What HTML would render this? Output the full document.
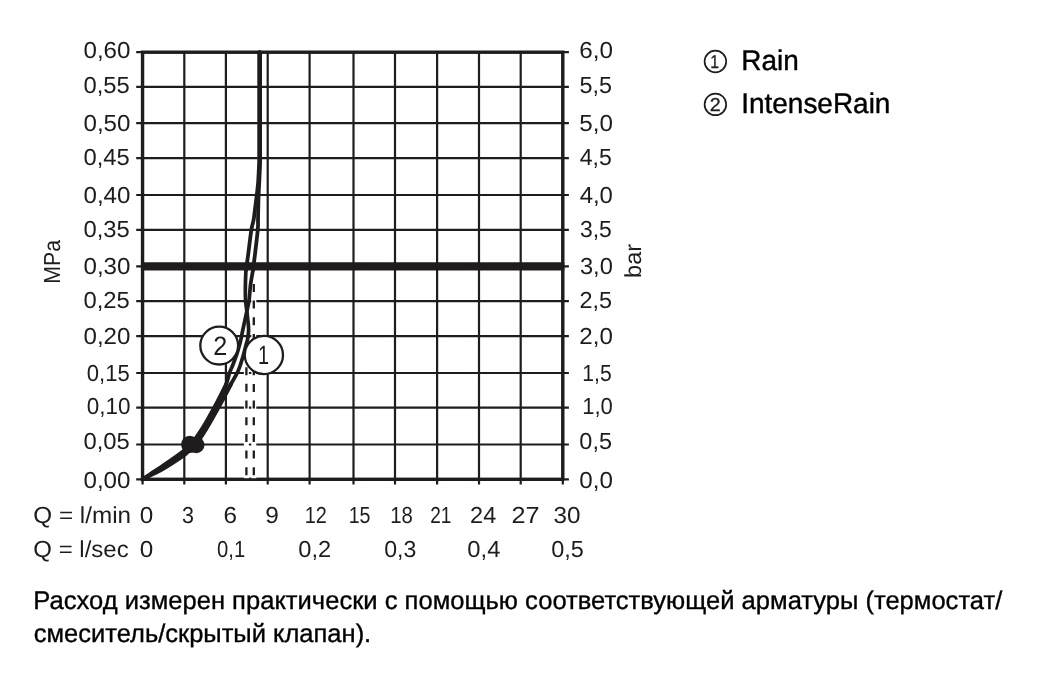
<!DOCTYPE html>
<html lang="ru"><head><meta charset="utf-8"><title>Rain / IntenseRain</title>
<style>
html,body{margin:0;padding:0;background:#fff;}
body{width:1059px;height:675px;overflow:hidden;position:relative;font-family:"Liberation Sans",sans-serif;color:#1f1c1d;}
svg{position:absolute;left:0;top:0;display:block;}
svg text{font-family:"Liberation Sans",sans-serif;fill:#1f1c1d;text-rendering:geometricPrecision;}
.ax{font-size:23.2px;}
.cn{font-size:26.6px;}
.ln{font-size:18.6px;stroke:#1f1c1d;stroke-width:0.3px;}
.lg{font-size:28.3px;fill:#000;stroke:#000;stroke-width:0.4px;}
.nt{font-size:25.7px;fill:#000;stroke:#000;stroke-width:0.35px;}
</style></head><body>
<svg width="1059" height="675" viewBox="0 0 1059 675">
<rect width="1059" height="675" fill="#fff"/>
<g stroke="#1f1c1d" fill="none" stroke-linecap="butt">
<line x1="142.55" y1="52.2" x2="142.55" y2="484.5" stroke-width="2.2"/>
<line x1="184.3" y1="52.2" x2="184.3" y2="484.5" stroke-width="2.2"/>
<line x1="225.9" y1="52.2" x2="225.9" y2="484.5" stroke-width="2.2"/>
<line x1="267.7" y1="52.2" x2="267.7" y2="484.5" stroke-width="2.2"/>
<line x1="309.6" y1="52.2" x2="309.6" y2="484.5" stroke-width="2.2"/>
<line x1="353.5" y1="52.2" x2="353.5" y2="484.5" stroke-width="2.2"/>
<line x1="395.0" y1="52.2" x2="395.0" y2="484.5" stroke-width="2.2"/>
<line x1="437.1" y1="52.2" x2="437.1" y2="484.5" stroke-width="2.2"/>
<line x1="479.0" y1="52.2" x2="479.0" y2="484.5" stroke-width="2.2"/>
<line x1="520.7" y1="52.2" x2="520.7" y2="484.5" stroke-width="2.2"/>
<line x1="562.8" y1="52.2" x2="562.8" y2="484.5" stroke-width="2.2"/>
<line x1="136.2" y1="52.2" x2="568.9" y2="52.2" stroke-width="2.2"/>
<line x1="136.2" y1="86.8" x2="568.9" y2="86.8" stroke-width="2.2"/>
<line x1="136.2" y1="123.2" x2="568.9" y2="123.2" stroke-width="2.2"/>
<line x1="136.2" y1="158.2" x2="568.9" y2="158.2" stroke-width="2.2"/>
<line x1="136.2" y1="195.0" x2="568.9" y2="195.0" stroke-width="2.2"/>
<line x1="136.2" y1="229.9" x2="568.9" y2="229.9" stroke-width="2.2"/>
<line x1="136.2" y1="266.4" x2="568.9" y2="266.4" stroke-width="2.2"/>
<line x1="136.2" y1="301.1" x2="568.9" y2="301.1" stroke-width="2.2"/>
<line x1="136.2" y1="336.2" x2="568.9" y2="336.2" stroke-width="2.2"/>
<line x1="136.2" y1="373.0" x2="568.9" y2="373.0" stroke-width="2.2"/>
<line x1="136.2" y1="407.7" x2="568.9" y2="407.7" stroke-width="2.2"/>
<line x1="136.2" y1="444.5" x2="568.9" y2="444.5" stroke-width="2.2"/>
<line x1="136.2" y1="479.3" x2="568.9" y2="479.3" stroke-width="2.2"/>
<rect x="142.55" y="52.2" width="420.25" height="427.10" stroke-width="3.4"/>
<line x1="140.95" y1="266.4" x2="564.4" y2="266.4" stroke-width="8.4"/>
</g>
<g fill="none">
<line x1="246.4" y1="364" x2="246.4" y2="478.2" stroke="#fff" stroke-width="5"/>
<line x1="253.8" y1="283" x2="253.8" y2="478.2" stroke="#fff" stroke-width="5"/>
<line x1="246.4" y1="367.2" x2="246.4" y2="476" stroke="#1f1c1d" stroke-width="2.3" stroke-dasharray="8 8.67"/>
<line x1="253.8" y1="283.9" x2="253.8" y2="476" stroke="#1f1c1d" stroke-width="2.3" stroke-dasharray="8 8.67"/>
</g>
<g stroke="#1f1c1d" fill="none" stroke-linecap="round" stroke-linejoin="round">
<path d="M142.6 479.3 C144.1 478.3 148.4 475.5 151.7 473.3 C155.0 471.1 157.3 469.8 162.5 466.2 C167.8 462.6 178.0 455.7 183.3 451.4 C188.6 447.2 190.8 444.6 194.2 440.4 C197.6 436.2 200.4 431.7 203.9 426.1 C207.3 420.5 212.1 411.8 214.8 406.8 C217.6 401.8 218.5 399.9 220.4 396.1 C222.3 392.4 224.8 387.9 226.3 384.0" stroke-width="4.1"/>
<path d="M142.6 479.3 C144.2 478.5 148.8 476.2 152.3 474.3 C155.8 472.5 158.4 471.6 163.9 468.2 C169.4 464.8 179.8 458.2 185.3 454.0 C190.8 449.7 193.2 446.9 196.8 442.6 C200.4 438.2 203.3 433.6 206.7 427.9 C210.2 422.2 215.0 413.4 217.8 408.4 C220.6 403.4 221.4 401.9 223.6 397.9 C225.8 393.8 228.7 388.2 231.0 384.0" stroke-width="4.1"/>
<path d="M220.4 396.1 C222.3 392.4 224.8 387.9 226.3 384.0 C227.8 380.1 228.6 375.8 229.6 372.8 C230.6 369.8 231.2 369.0 232.4 366.0 C233.6 363.0 235.4 358.3 236.6 354.9 C237.8 351.5 238.6 348.3 239.4 345.5 C240.2 342.7 240.6 340.8 241.2 338.0 C241.8 335.2 242.1 333.2 243.0 329.0 C243.9 324.8 245.6 317.2 246.6 312.5 C247.6 307.8 248.3 305.6 249.0 301.0 C249.7 296.4 249.8 290.1 250.5 285.0 C251.2 279.9 252.5 272.9 252.9 270.5" stroke-width="3.7"/>
<path d="M223.6 397.9 C225.8 393.8 228.7 388.2 231.0 384.0 C233.3 379.8 235.7 375.8 237.2 372.8 C238.7 369.8 239.0 369.0 240.0 366.0 C241.0 363.0 242.4 358.3 243.4 354.9 C244.4 351.5 245.2 348.3 245.9 345.5 C246.6 342.7 247.4 340.8 247.8 338.0 C248.2 335.2 248.7 333.2 248.6 329.0 C248.5 324.8 247.5 317.2 247.0 312.5 C246.5 307.8 245.9 305.6 245.6 301.0 C245.3 296.4 245.3 290.1 245.4 285.0 C245.5 279.9 245.8 272.9 245.9 270.5" stroke-width="3.7"/>
<path d="M252.9 270.5 C253.2 267.9 254.1 261.8 254.9 255.0 C255.7 248.2 257.3 235.4 257.8 229.6 C258.3 223.8 257.9 223.3 258.0 220.0 C258.1 216.7 258.1 214.2 258.2 210.0 C258.3 205.8 258.4 199.2 258.6 194.7 C258.8 190.2 259.0 187.1 259.2 183.0 C259.4 178.9 259.6 174.2 259.8 170.0 C260.0 165.8 260.1 166.3 260.1 158.0 C260.2 149.7 260.1 137.6 260.1 120.0 C260.1 102.4 260.1 63.5 260.1 52.2" stroke-width="3.8"/>
<path d="M245.9 270.5 C246.3 267.9 247.2 261.8 248.1 255.0 C249.0 248.2 250.5 235.4 251.4 229.6 C252.3 223.8 253.0 223.3 253.6 220.0 C254.2 216.7 254.4 214.2 254.9 210.0 C255.4 205.8 256.3 199.2 256.8 194.7 C257.3 190.2 257.8 187.1 258.1 183.0 C258.4 178.9 258.6 174.2 258.8 170.0 C259.0 165.8 259.1 166.3 259.2 158.0 C259.3 149.7 259.2 137.6 259.2 120.0 C259.2 102.4 259.2 63.5 259.2 52.2" stroke-width="3.8"/>
</g>
<circle cx="189.8" cy="444.4" r="8.7" fill="#1f1c1d"/>
<circle cx="196.2" cy="445" r="8.3" fill="#1f1c1d"/>
<circle cx="219.2" cy="345.6" r="18.9" fill="#fff" stroke="#1f1c1d" stroke-width="2.3"/>
<circle cx="263.9" cy="355.0" r="19.1" fill="#fff" stroke="#1f1c1d" stroke-width="2.3"/>
<text class="cn" x="213.23" y="355.00" textLength="14.04" lengthAdjust="spacingAndGlyphs">2</text>
<text class="cn" x="258.08" y="364.40" textLength="11.09" lengthAdjust="spacingAndGlyphs">1</text>
<text class="ax" x="83.46" y="57.70" textLength="46.99" lengthAdjust="spacingAndGlyphs">0,60</text>
<text class="ax" x="83.47" y="93.40" textLength="46.33" lengthAdjust="spacingAndGlyphs">0,55</text>
<text class="ax" x="83.46" y="131.30" textLength="46.99" lengthAdjust="spacingAndGlyphs">0,50</text>
<text class="ax" x="83.47" y="165.00" textLength="46.33" lengthAdjust="spacingAndGlyphs">0,45</text>
<text class="ax" x="83.46" y="203.40" textLength="46.99" lengthAdjust="spacingAndGlyphs">0,40</text>
<text class="ax" x="83.47" y="236.60" textLength="46.33" lengthAdjust="spacingAndGlyphs">0,35</text>
<text class="ax" x="83.46" y="274.40" textLength="46.99" lengthAdjust="spacingAndGlyphs">0,30</text>
<text class="ax" x="83.47" y="307.80" textLength="46.33" lengthAdjust="spacingAndGlyphs">0,25</text>
<text class="ax" x="83.46" y="343.80" textLength="46.99" lengthAdjust="spacingAndGlyphs">0,20</text>
<text class="ax" x="86.84" y="380.60" textLength="42.89" lengthAdjust="spacingAndGlyphs">0,15</text>
<text class="ax" x="86.72" y="414.40" textLength="43.65" lengthAdjust="spacingAndGlyphs">0,10</text>
<text class="ax" x="83.47" y="449.30" textLength="46.33" lengthAdjust="spacingAndGlyphs">0,05</text>
<text class="ax" x="83.46" y="487.50" textLength="46.99" lengthAdjust="spacingAndGlyphs">0,00</text>
<text class="ax" x="579.37" y="57.70" textLength="33.68" lengthAdjust="spacingAndGlyphs">6,0</text>
<text class="ax" x="579.56" y="93.40" textLength="32.52" lengthAdjust="spacingAndGlyphs">5,5</text>
<text class="ax" x="579.33" y="131.30" textLength="33.61" lengthAdjust="spacingAndGlyphs">5,0</text>
<text class="ax" x="579.67" y="165.00" textLength="32.10" lengthAdjust="spacingAndGlyphs">4,5</text>
<text class="ax" x="579.65" y="203.40" textLength="33.28" lengthAdjust="spacingAndGlyphs">4,0</text>
<text class="ax" x="579.92" y="236.60" textLength="31.94" lengthAdjust="spacingAndGlyphs">3,5</text>
<text class="ax" x="579.90" y="274.40" textLength="32.93" lengthAdjust="spacingAndGlyphs">3,0</text>
<text class="ax" x="579.42" y="307.80" textLength="32.56" lengthAdjust="spacingAndGlyphs">2,5</text>
<text class="ax" x="579.39" y="343.80" textLength="33.56" lengthAdjust="spacingAndGlyphs">2,0</text>
<text class="ax" x="582.29" y="380.60" textLength="29.40" lengthAdjust="spacingAndGlyphs">1,5</text>
<text class="ax" x="582.22" y="414.40" textLength="30.64" lengthAdjust="spacingAndGlyphs">1,0</text>
<text class="ax" x="579.38" y="449.30" textLength="32.60" lengthAdjust="spacingAndGlyphs">0,5</text>
<text class="ax" x="579.36" y="487.50" textLength="33.59" lengthAdjust="spacingAndGlyphs">0,0</text>
<text class="ax" x="139.65" y="523.10" textLength="13.50" lengthAdjust="spacingAndGlyphs">0</text>
<text class="ax" x="181.98" y="523.10" textLength="11.96" lengthAdjust="spacingAndGlyphs">3</text>
<text class="ax" x="223.47" y="523.10" textLength="13.50" lengthAdjust="spacingAndGlyphs">6</text>
<text class="ax" x="265.15" y="523.10" textLength="13.61" lengthAdjust="spacingAndGlyphs">9</text>
<text class="ax" x="304.79" y="523.10" textLength="22.11" lengthAdjust="spacingAndGlyphs">12</text>
<text class="ax" x="348.71" y="523.10" textLength="21.82" lengthAdjust="spacingAndGlyphs">15</text>
<text class="ax" x="390.25" y="523.10" textLength="22.63" lengthAdjust="spacingAndGlyphs">18</text>
<text class="ax" x="430.24" y="523.10" textLength="21.19" lengthAdjust="spacingAndGlyphs">21</text>
<text class="ax" x="470.12" y="523.10" textLength="26.07" lengthAdjust="spacingAndGlyphs">24</text>
<text class="ax" x="511.43" y="523.10" textLength="28.04" lengthAdjust="spacingAndGlyphs">27</text>
<text class="ax" x="553.48" y="523.10" textLength="26.97" lengthAdjust="spacingAndGlyphs">30</text>
<text class="ax" x="139.65" y="556.50" textLength="13.50" lengthAdjust="spacingAndGlyphs">0</text>
<text class="ax" x="217.11" y="556.50" textLength="28.08" lengthAdjust="spacingAndGlyphs">0,1</text>
<text class="ax" x="298.38" y="556.50" textLength="32.81" lengthAdjust="spacingAndGlyphs">0,2</text>
<text class="ax" x="384.20" y="556.50" textLength="32.12" lengthAdjust="spacingAndGlyphs">0,3</text>
<text class="ax" x="467.37" y="556.50" textLength="33.02" lengthAdjust="spacingAndGlyphs">0,4</text>
<text class="ax" x="551.18" y="556.50" textLength="32.60" lengthAdjust="spacingAndGlyphs">0,5</text>
<text class="ax" x="33.35" y="523.10" textLength="97.72" lengthAdjust="spacingAndGlyphs">Q = l/min</text>
<text class="ax" x="33.36" y="556.50" textLength="95.27" lengthAdjust="spacingAndGlyphs">Q = l/sec</text>
<text class="ax" transform="translate(59.70 283.75) rotate(-90)" textLength="43.75" lengthAdjust="spacingAndGlyphs">MPa</text>
<text class="ax" transform="translate(640.80 277.91) rotate(-90)" textLength="33.90" lengthAdjust="spacingAndGlyphs">bar</text>
<circle cx="715.4" cy="61.5" r="10.8" fill="none" stroke="#1f1c1d" stroke-width="1.7"/>
<circle cx="715.4" cy="104.4" r="10.8" fill="none" stroke="#1f1c1d" stroke-width="1.7"/>
<text class="ln" x="710.20" y="67.60" textLength="8.77" lengthAdjust="spacingAndGlyphs">1</text>
<text class="ln" x="709.81" y="110.90" textLength="10.99" lengthAdjust="spacingAndGlyphs">2</text>
<text class="lg" x="741.31" y="70.10" textLength="57.51" lengthAdjust="spacingAndGlyphs">Rain</text>
<text class="lg" x="741.22" y="113.10" textLength="149.20" lengthAdjust="spacingAndGlyphs">IntenseRain</text>
<text class="nt" x="33.32" y="608.80" textLength="968.98" lengthAdjust="spacingAndGlyphs">Расход измерен практически с помощью соответствующей арматуры (термостат/</text>
<text class="nt" x="33.82" y="642.20" textLength="337.40" lengthAdjust="spacingAndGlyphs">смеситель/скрытый клапан).</text>
</svg>
</body></html>
